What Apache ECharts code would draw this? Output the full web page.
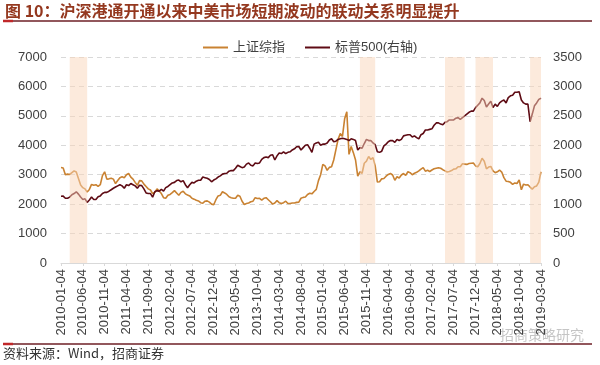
<!DOCTYPE html>
<html>
<head>
<meta charset="utf-8">
<script src="https://cdn.jsdelivr.net/npm/echarts@6/dist/echarts.min.js"></script>
<style>
html,body{margin:0;padding:0;background:#fff;}
#c{width:600px;height:365px;}
</style>
</head>
<body>
<div id="c"></div>
<script>
// semi-monthly sample dates: YYYY-MM-04 and YYYY-MM-18, 2010-01-04 .. 2019-03-04
var categories = [];
(function(){
  for (var y = 2010; y <= 2019; y++) {
    for (var m = 1; m <= 12; m++) {
      if (y === 2019 && m > 3) return;
      var mm = (m < 10 ? '0' : '') + m;
      categories.push(y + '-' + mm + '-04');
      if (y === 2019 && m === 3) return;
      categories.push(y + '-' + mm + '-18');
    }
  }
})();

var sseValues = [
  3243,3230,3000,3020,3010,3070,3130,3090,2870,2650,2560,2520,2410,2500,2670,2640,2660,2600,2660,2970,3100,2850,2860,2880,
  2850,2700,2800,2900,2930,2900,3000,3040,2920,2850,2740,2640,2800,2790,2680,2600,2520,2480,2360,2400,2520,2450,2360,2220,
  2200,2300,2330,2390,2460,2380,2300,2400,2440,2350,2310,2280,2200,2170,2130,2110,2050,2030,2100,2110,2070,2000,1980,2150,
  2280,2300,2420,2380,2330,2250,2220,2200,2200,2300,2270,2100,1990,2020,2040,2080,2100,2220,2190,2200,2140,2200,2220,2150,
  2080,2000,2040,2120,2050,2020,2050,2100,2020,2020,2040,2040,2060,2070,2200,2230,2240,2330,2370,2350,2430,2500,2800,3000,
  3350,3300,3150,3250,3270,3500,3850,4200,4400,4300,4900,5140,3690,3960,3750,3500,2950,3100,3050,3390,3460,3620,3520,3580,
  3300,2750,2760,2860,2870,2950,3010,3040,2990,2810,2930,2890,2990,3040,2980,3100,3070,3000,3050,3080,3130,3190,3240,3120,
  3150,3110,3160,3200,3220,3240,3220,3170,3130,3090,3110,3140,3190,3200,3270,3270,3370,3360,3350,3380,3390,3400,3300,3270,
  3380,3560,3460,3200,3260,3280,3130,3070,3100,3160,3090,2900,2780,2770,2740,2670,2720,2700,2820,2490,2680,2650,2660,2580,
  2510,2590,2620,2750,3100
];

var spxValues = [
  1133,1136,1100,1100,1120,1160,1180,1210,1170,1120,1080,1090,1030,1070,1120,1080,1080,1125,1140,1180,1200,1200,1220,1245,
  1270,1290,1310,1330,1310,1270,1330,1315,1350,1330,1310,1270,1320,1315,1260,1190,1180,1180,1120,1210,1230,1220,1250,1220,
  1280,1300,1330,1360,1370,1400,1410,1380,1400,1330,1280,1330,1370,1360,1390,1405,1405,1460,1450,1440,1420,1380,1410,1430,
  1460,1480,1510,1520,1525,1560,1570,1570,1610,1660,1640,1620,1630,1680,1700,1660,1650,1700,1690,1700,1760,1790,1800,1790,
  1830,1840,1750,1820,1870,1860,1890,1860,1880,1890,1920,1940,1975,1980,1920,1960,2000,2010,1950,1880,2020,2040,2050,2000,
  2020,2020,2040,2090,2110,2060,2070,2100,2110,2120,2110,2100,2080,2110,2100,2080,1920,1960,1950,2030,2100,2080,2080,2040,
  2010,1890,1880,1900,1990,2020,2060,2080,2080,2050,2100,2080,2100,2160,2170,2180,2180,2140,2160,2130,2110,2180,2200,2260,
  2260,2270,2280,2340,2380,2380,2360,2350,2390,2400,2430,2430,2430,2460,2470,2440,2470,2500,2530,2560,2580,2580,2640,2680,
  2720,2800,2760,2650,2700,2750,2640,2700,2660,2720,2750,2770,2720,2810,2840,2850,2900,2900,2910,2770,2720,2700,2700,2400,
  2530,2670,2720,2780,2800
];

var seriesNames = ['上证综指', '标普500(右轴)'];
var bandStarts = ['2010-03-04', '2015-09-18', '2017-05-04', '2017-12-04', '2018-12-18'];
var bandEnds   = ['2010-07-04', '2016-01-04', '2017-09-18', '2018-04-04', '2019-03-04'];
var leftTicks = { min: 0, max: 7000, step: 1000 };
var rightTicks = { min: 0, max: 3500, step: 500 };

var titleText = '图 10：沪深港通开通以来中美市场短期波动的联动关系明显提升';
var sourceText = '资料来源：Wind，招商证券';

var bands = bandStarts.map(function(s, i){ return [{ xAxis: s }, { xAxis: bandEnds[i] }]; });

var chart = echarts.init(document.getElementById('c'), null, { renderer: 'canvas' });
var FONT = '"Liberation Sans", Arial, "Noto Sans CJK SC", sans-serif';
var plain = function(v){ return String(v); };
var option = {
  animation: false,
  backgroundColor: '#ffffff',
  textStyle: { fontFamily: FONT },
  grid: { left: 61, right: 59, top: 57, bottom: 102, containLabel: false },
  legend: {
    data: seriesNames,
    left: 198, top: 36,
    icon: 'rect', itemWidth: 25, itemHeight: 2, itemGap: 20,
    textStyle: { fontSize: 13, color: '#404040', fontFamily: FONT }
  },
  xAxis: {
    type: 'category',
    data: categories,
    boundaryGap: false,
    axisLine: { show: true, lineStyle: { color: '#d9d9d9', width: 1 } },
    axisTick: { show: true, interval: 9, length: 3, lineStyle: { color: '#d9d9d9' } },
    axisLabel: { interval: 9, rotate: 90, fontSize: 13, color: '#404040', margin: 6, fontFamily: FONT },
    splitLine: { show: false }
  },
  yAxis: [
    {
      type: 'value', min: leftTicks.min, max: leftTicks.max, interval: leftTicks.step,
      axisLine: { show: false }, axisTick: { show: false },
      axisLabel: { fontSize: 13, color: '#404040', margin: 14, fontFamily: FONT, formatter: plain },
      splitLine: { show: true, lineStyle: { color: '#d9d9d9', type: [5, 4], width: 1 } }
    },
    {
      type: 'value', min: rightTicks.min, max: rightTicks.max, interval: rightTicks.step,
      axisLine: { show: false }, axisTick: { show: false },
      axisLabel: { fontSize: 13, color: '#404040', margin: 12, fontFamily: FONT, formatter: plain },
      splitLine: { show: false }
    }
  ],
  series: [
    {
      name: seriesNames[0], type: 'line', yAxisIndex: 0, data: sseValues,
      showSymbol: false, symbol: 'none', z: 2,
      itemStyle: { color: '#c98232' },
      lineStyle: { color: '#c98232', width: 1.6 }
    },
    {
      name: seriesNames[1], type: 'line', yAxisIndex: 1, data: spxValues,
      showSymbol: false, symbol: 'none', z: 3,
      itemStyle: { color: '#5e0b14' },
      lineStyle: { color: '#5e0b14', width: 1.6 }
    },
    {
      name: 'bands', type: 'line', yAxisIndex: 0, data: [],
      showSymbol: false, symbol: 'none', z: 10, silent: true,
      markArea: {
        silent: true, z: 10,
        itemStyle: { color: 'rgba(250,214,186,0.5)' },
        data: bands
      }
    }
  ],
  graphic: [
    { type: 'text', left: 5, top: 3, style: { text: titleText, font: 'bold 16px "Noto Sans CJK SC", sans-serif', fill: '#94381f' } },
    { type: 'line', shape: { x1: 3, y1: 21, x2: 592, y2: 21 }, style: { stroke: '#6e1f26', lineWidth: 1.5 } },
    { type: 'line', shape: { x1: 3, y1: 21, x2: 13, y2: 21 }, style: { stroke: '#c0282a', lineWidth: 2.5 } },
    { type: 'line', shape: { x1: 3, y1: 344, x2: 592, y2: 344 }, style: { stroke: '#6e1f26', lineWidth: 1.5 } },
    { type: 'line', shape: { x1: 3, y1: 344, x2: 13, y2: 344 }, style: { stroke: '#c0282a', lineWidth: 2.5 } },
    { type: 'text', left: 3, top: 347, style: { text: sourceText, font: '13px "Noto Sans CJK SC", sans-serif', fill: '#333333' } },
    { type: 'text', left: 500, top: 328, style: { text: '招商策略研究', font: '14px "Noto Sans CJK SC", sans-serif', fill: 'rgba(150,150,150,0.55)' } }
  ]
};
chart.setOption(option);
</script>
</body>
</html>
